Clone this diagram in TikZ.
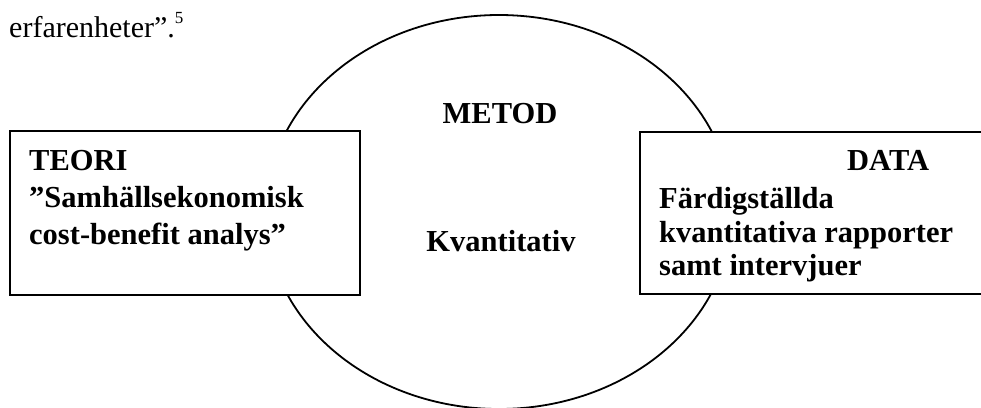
\documentclass[tikz,border=0pt]{standalone}
\usepackage{fontspec}
\setmainfont{Liberation Serif}
\usetikzlibrary{shapes.geometric}
\begin{document}
\begin{tikzpicture}[x=1pt,y=-1pt,
  line/.style={line width=1.8pt, draw=black},
  boxnode/.style={line, fill=white, inner sep=0pt, anchor=north west},
  txt/.style={inner sep=0pt, anchor=base west, font=\fontsize{30.5}{36}\selectfont\bfseries},
  plain/.style={inner sep=0pt, anchor=base west, font=\fontsize{30}{36}\selectfont}]
\useasboundingbox (0,0) rectangle (981,407);
\clip (0,0) rectangle (981,407);
\fill[white] (0,0) rectangle (981,407);
% method ellipse
\node[line, ellipse, inner sep=0pt, minimum width=466pt, minimum height=394pt] (metod) at (499,212) {};
% boxes
\node[boxnode, minimum width=350pt, minimum height=164pt] (teoribox) at (9,130) {};
\node[boxnode, minimum width=370pt, minimum height=162pt] (databox) at (639,131) {};
% top text
\node[plain] (prev) at (9,37) {erfarenheter”.\raisebox{14pt}{\fontsize{17}{17}\selectfont 5}};
% theory
\node[txt] (t1) at (29,170) {TEORI};
\node[txt] (t2) at (29,207) {”Samhällsekonomisk};
\node[txt] (t3) at (29,244) {cost-benefit analys”};
% method
\node[txt, anchor=base] (m1) at (500,123) {METOD};
\node[txt, anchor=base] (m2) at (501,251) {Kvantitativ};
% data
\node[txt] (d1) at (847,170) {DATA};
\node[txt] (d2) at (659,208) {Färdigställda};
\node[txt] (d3) at (659,242) {kvantitativa rapporter};
\node[txt] (d4) at (659,275) {samt intervjuer};
\end{tikzpicture}
\end{document}
